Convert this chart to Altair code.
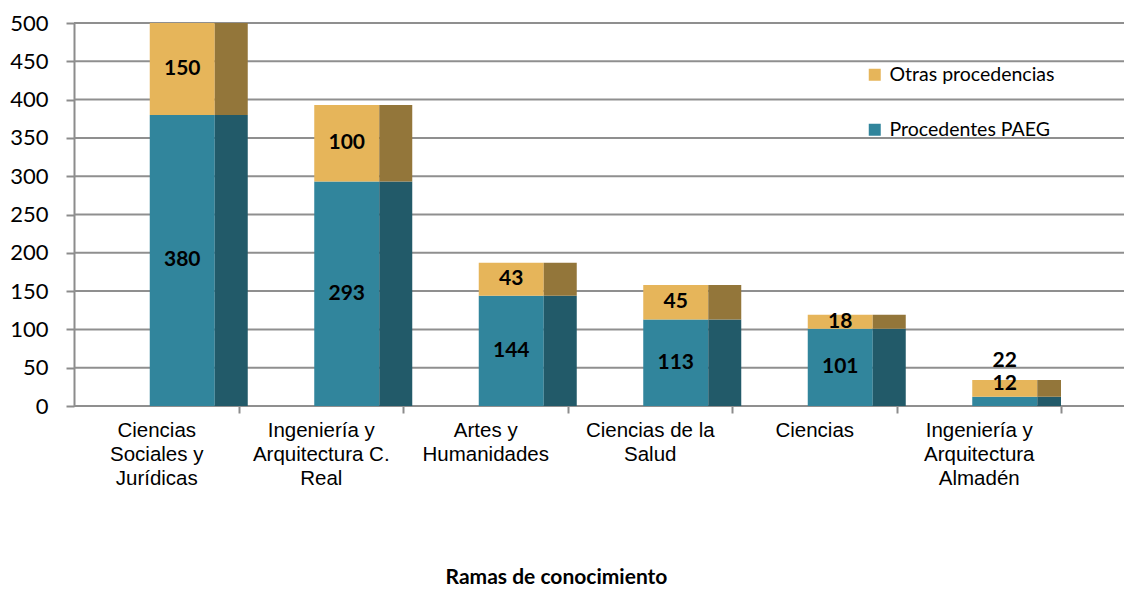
import altair as alt
import pandas as pd

categories = [
    "Ciencias\nSociales y\nJurídicas",
    "Ingeniería y\nArquitectura C.\nReal",
    "Artes y\nHumanidades",
    "Ciencias de la\nSalud",
    "Ciencias",
    "Ingeniería y\nArquitectura\nAlmadén",
]
series = ["Procedentes PAEG", "Otras procedencias"]
paeg = [380, 293, 144, 113, 101, 12]
otras = [150, 100, 43, 45, 18, 22]
y_ticks = list(range(0, 501, 50))

front_colors = {"Otras procedencias": "#E6B55A", "Procedentes PAEG": "#31859C"}
side_colors = {"Otras procedencias": "#93763A", "Procedentes PAEG": "#225A69"}

YMAX = 500
W, H = 987, 383
BAND = W / len(categories)

rows = []
for c, p, o in zip(categories, paeg, otras):
    total = p + o
    segs = [("Procedentes PAEG", 0, p), ("Otras procedencias", p, total)]
    for s, a, b in segs:
        mid = (a + min(b, YMAX)) / 2
        rows.append(dict(cat=c, serie=s, start=a, end=b, value=b - a, mid=mid,
                         side=side_colors[s]))
df = pd.DataFrame(rows)
# Small bars: labels stacked above each other (as in the original)
for c, p, o in zip(categories, paeg, otras):
    if p + o < 60:
        df.loc[(df.cat == c) & (df.serie == "Procedentes PAEG"), "mid"] = p + o - 5
        df.loc[(df.cat == c) & (df.serie == "Otras procedencias"), "mid"] = p + o + 25

grid_df = pd.DataFrame({"v": y_ticks})

xaxis = alt.Axis(
    title="Ramas de conocimiento", grid=False,
    labelExpr="split(datum.label, '\\n')",
    labelAngle=0, labelFont="Liberation Sans", labelFontSize=20.5,
    labelLineHeight=24, labelColor="#000000", labelPadding=7,
    labelLimit=400,
    domain=False, ticks=True, tickSize=7, tickColor="#8c8c8c", tickWidth=2,
    tickOffset=BAND / 2, labelOffset=-BAND / 2,
    titleFont="Lato", titleFontSize=21, titleFontWeight="bold",
    titleColor="#000000", titleY=177, titleX=482, titleBaseline="alphabetic",
)
xscale = alt.Scale(paddingInner=0, paddingOuter=0)
yscale = alt.Scale(domain=[0, YMAX], nice=False)
yaxis = alt.Axis(
    title=None, values=y_ticks, grid=False, domain=True, domainColor="#8c8c8c",
    domainWidth=2, ticks=True, tickSize=8, tickColor="#8c8c8c", tickWidth=2,
    labelFont="Lato", labelFontSize=22, labelColor="#000000", labelPadding=18,
    labelOverlap=False, labelFlush=False,
)

grid = alt.Chart(grid_df).mark_rule(color="#8f8f8f", strokeWidth=2, clip=False).encode(
    y=alt.Y("v:Q", scale=yscale, axis=yaxis),
    x=alt.value(0),
    x2=alt.value(W + 63),
)

front = alt.Chart(df).mark_bar(size=65, xOffset=26, clip=True).encode(
    x=alt.X("cat:N", sort=categories, scale=xscale, axis=xaxis),
    y=alt.Y("start:Q", scale=yscale, axis=yaxis),
    y2="end:Q",
    color=alt.Color(
        "serie:N",
        scale=alt.Scale(domain=["Otras procedencias", "Procedentes PAEG"],
                        range=[front_colors["Otras procedencias"], front_colors["Procedentes PAEG"]]),
        legend=alt.Legend(
            title=None, orient="none", legendX=791, legendY=42,
            symbolType="square", symbolSize=144, symbolStrokeWidth=0,
            labelFont="Lato", labelFontSize=19.5, labelColor="#000000",
            rowPadding=34, labelOffset=5, labelLimit=400,
        ),
    ),
)

side = alt.Chart(df).mark_bar(size=33, xOffset=75, clip=True).encode(
    x=alt.X("cat:N", sort=categories, scale=xscale, axis=xaxis),
    y=alt.Y("start:Q", scale=yscale, axis=yaxis),
    y2="end:Q",
    fill=alt.Fill("side:N", scale=None),
)

labels = alt.Chart(df).mark_text(
    font="Lato", fontSize=21, fontWeight="bold", color="#000000",
    xOffset=26, baseline="middle",
).encode(
    x=alt.X("cat:N", sort=categories, scale=xscale, axis=xaxis),
    y=alt.Y("mid:Q", scale=yscale, axis=yaxis),
    text="value:Q",
)

chart = alt.layer(grid, front, side, labels).properties(
    width=W, height=H,
    background="#ffffff",
    autosize=alt.AutoSizeParams(type="none"),
    padding={"left": 66, "top": 15, "right": 63, "bottom": 180},
).configure_view(stroke=None, strokeWidth=0).configure_axis(
    grid=False, labelOverlap=False
)

chart.save("out.html", embed_options={"renderer": "svg", "actions": False})
